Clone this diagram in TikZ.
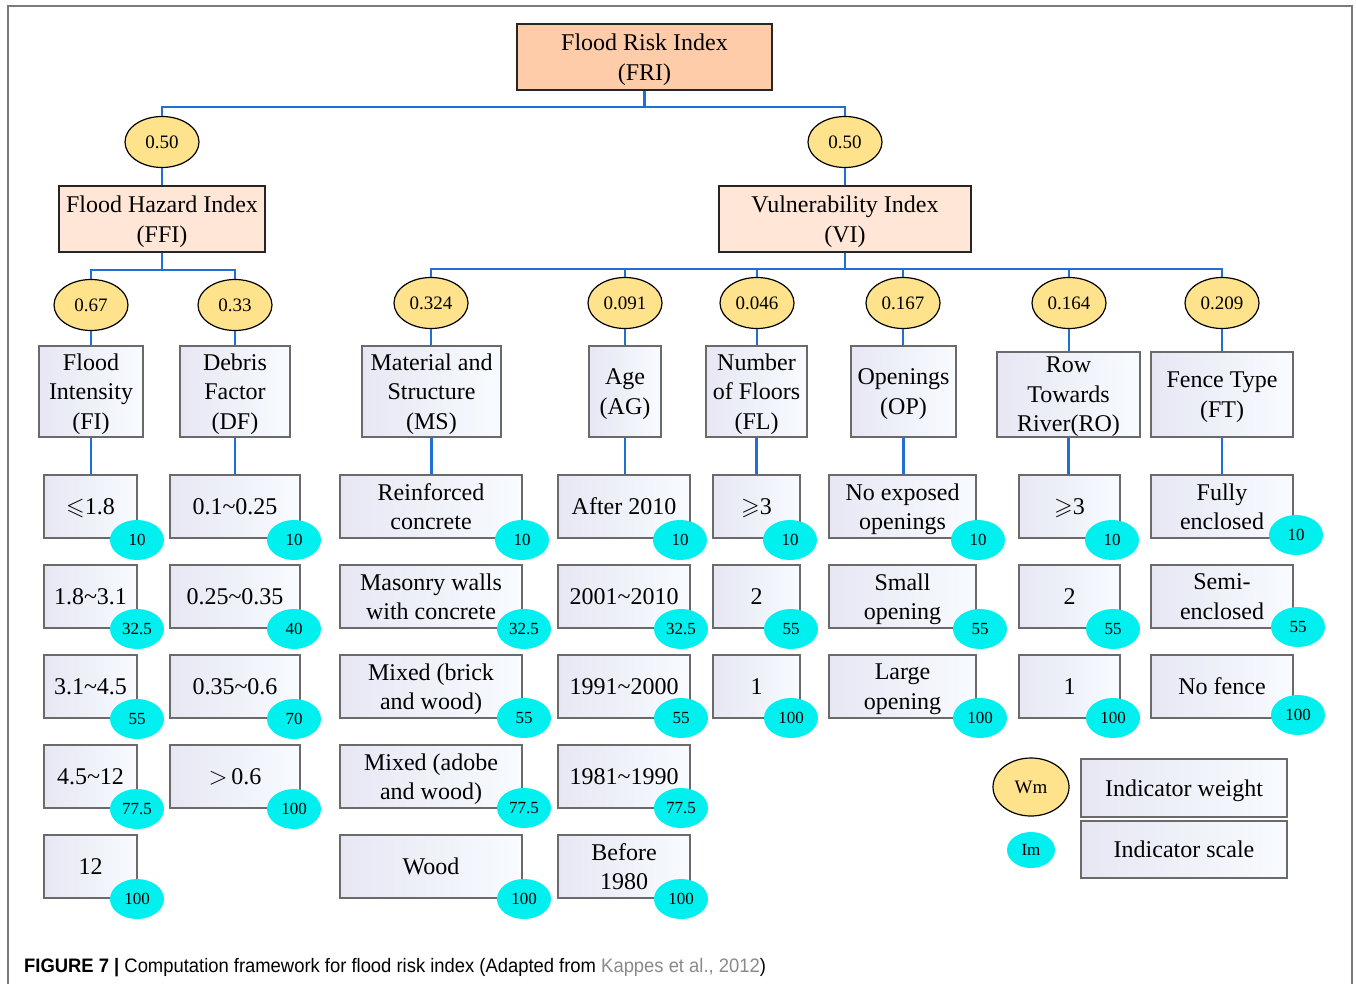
\documentclass[tikz,border=0pt]{standalone}
\usepackage{fontspec}
\usepackage{amssymb}
\setmainfont{Liberation Serif}
\newfontfamily\capfont{Liberation Sans}[FakeStretch=0.944]
\usetikzlibrary{shapes.geometric}
\definecolor{linkblue}{HTML}{1F6FD6}
\definecolor{topfill}{HTML}{FFCCAA}
\definecolor{midfill}{HTML}{FFE6D6}
\definecolor{wfill}{HTML}{FFE28C}
\definecolor{sfill}{HTML}{00F0F0}
\definecolor{boxline}{HTML}{6A6A6A}
\definecolor{shadeA}{HTML}{E6E7F3}
\definecolor{shadeB}{HTML}{F8FBFF}
\definecolor{framegray}{HTML}{7A7A7A}
\definecolor{refgray}{HTML}{8A8A8A}
\tikzset{
  bigtxt/.style={font=\fontsize{24}{29.5}\selectfont, align=center, inner sep=0pt, text depth=0pt},
  topbox/.style={bigtxt, rectangle, draw=black!85, line width=1.6pt, fill=topfill},
  midbox/.style={bigtxt, rectangle, draw=black!85, line width=1.6pt, fill=midfill},
  catbox/.style={bigtxt, rectangle, draw=boxline, line width=1.4pt, left color=shadeA, right color=shadeB},
  wnode/.style={ellipse, draw=black, line width=1.2pt, fill=wfill, minimum width=74pt, minimum height=51pt, inner sep=0pt, font=\fontsize{19}{22}\selectfont},
  snode/.style={ellipse, draw=none, fill=sfill, minimum width=54pt, minimum height=40pt, inner sep=0pt, font=\fontsize{17}{20}\selectfont},
  link/.style={draw=linkblue, line width=2.2pt},
}
% box by corners: style, name, x1, y1, x2, y2, text
\newcommand\mybox[7]{\node[#1, minimum width={#5pt-#3pt}, minimum height={#6pt-#4pt}] (#2) at ({(#3+#5)/2},{(#4+#6)/2}) {#7};}
\newcommand\tl{\textasciitilde}
\begin{document}
\begin{tikzpicture}[x=1pt, y=-1pt]
\useasboundingbox (0,0) rectangle (1356,984);
% outer frame
\draw[framegray, line width=1.2pt] (8,990) -- (8,6) -- (1352,6) -- (1352,990);

% top levels
\mybox{topbox}{FRI}{517}{24}{772}{90}{Flood Risk Index\\(FRI)}
\node[wnode] (w1) at (162,142) {0.50};
\node[wnode] (w2) at (845,142) {0.50};
\mybox{midbox}{FFI}{59}{186}{265}{252}{Flood Hazard Index\\(FFI)}
\mybox{midbox}{VI}{719}{186}{971}{252}{Vulnerability Index\\(VI)}

% weights level 2
\node[wnode] (wFI) at (91,305) {0.67};
\node[wnode] (wDF) at (235,305) {0.33};
\node[wnode] (wMS) at (431,303) {0.324};
\node[wnode] (wAG) at (625,303) {0.091};
\node[wnode] (wFL) at (757,303) {0.046};
\node[wnode] (wOP) at (903,303) {0.167};
\node[wnode] (wRO) at (1069,303) {0.164};
\node[wnode] (wFT) at (1222,303) {0.209};

% categories
\mybox{catbox}{FI}{39}{346}{143}{437}{Flood\\Intensity\\(FI)}
\mybox{catbox}{DF}{180}{346}{290}{437}{Debris\\Factor\\(DF)}
\mybox{catbox}{MS}{362}{346}{501}{437}{Material and\\Structure\\(MS)}
\mybox{catbox}{AG}{589}{346}{661}{437}{Age\\(AG)}
\mybox{catbox}{FL}{706}{346}{807}{437}{Number\\of Floors\\(FL)}
\mybox{catbox}{OP}{851}{346}{956}{437}{Openings\\(OP)}
\mybox{catbox}{RO}{997}{352}{1140}{437}{Row\\Towards\\River(RO)}
\mybox{catbox}{FT}{1151}{352}{1293}{437}{Fence Type\\(FT)}

% items FI
\mybox{catbox}{FI1}{44}{475}{137}{538}{$\leqslant$1.8}
\mybox{catbox}{FI2}{44}{565}{137}{628}{1.8\tl3.1}
\mybox{catbox}{FI3}{44}{655}{137}{718}{3.1\tl4.5}
\mybox{catbox}{FI4}{44}{745}{137}{808}{4.5\tl12}
\mybox{catbox}{FI5}{44}{835}{137}{898}{12}
% items DF
\mybox{catbox}{DF1}{170}{475}{300}{538}{0.1\tl0.25}
\mybox{catbox}{DF2}{170}{565}{300}{628}{0.25\tl0.35}
\mybox{catbox}{DF3}{170}{655}{300}{718}{0.35\tl0.6}
\mybox{catbox}{DF4}{170}{745}{300}{808}{$>$\,0.6}
% items MS
\mybox{catbox}{MS1}{340}{475}{522}{538}{Reinforced\\concrete}
\mybox{catbox}{MS2}{340}{565}{522}{628}{Masonry walls\\with concrete}
\mybox{catbox}{MS3}{340}{655}{522}{718}{Mixed (brick\\and wood)}
\mybox{catbox}{MS4}{340}{745}{522}{808}{Mixed (adobe\\and wood)}
\mybox{catbox}{MS5}{340}{835}{522}{898}{Wood}
% items AG
\mybox{catbox}{AG1}{558}{475}{690}{538}{After 2010}
\mybox{catbox}{AG2}{558}{565}{690}{628}{2001\tl2010}
\mybox{catbox}{AG3}{558}{655}{690}{718}{1991\tl2000}
\mybox{catbox}{AG4}{558}{745}{690}{808}{1981\tl1990}
\mybox{catbox}{AG5}{558}{835}{690}{898}{Before\\1980}
% items FL
\mybox{catbox}{FL1}{713}{475}{800}{538}{$\geqslant$3}
\mybox{catbox}{FL2}{713}{565}{800}{628}{2}
\mybox{catbox}{FL3}{713}{655}{800}{718}{1}
% items OP
\mybox{catbox}{OP1}{829}{475}{976}{538}{No exposed\\openings}
\mybox{catbox}{OP2}{829}{565}{976}{628}{Small\\opening}
\mybox{catbox}{OP3}{829}{655}{976}{718}{Large\\opening}
% items RO
\mybox{catbox}{RO1}{1019}{475}{1120}{538}{$\geqslant$3}
\mybox{catbox}{RO2}{1019}{565}{1120}{628}{2}
\mybox{catbox}{RO3}{1019}{655}{1120}{718}{1}
% items FT
\mybox{catbox}{FT1}{1151}{475}{1293}{538}{Fully\\enclosed}
\mybox{catbox}{FT2}{1151}{565}{1293}{628}{Semi-\\enclosed}
\mybox{catbox}{FT3}{1151}{655}{1293}{718}{No fence}

% scale ellipses
\node[snode] (sFI1) at (137,540) {10};
\node[snode] (sFI2) at (137,629) {32.5};
\node[snode] (sFI3) at (137,719) {55};
\node[snode] (sFI4) at (137,809) {77.5};
\node[snode] (sFI5) at (137,899) {100};
\node[snode] (sDF1) at (294,540) {10};
\node[snode] (sDF2) at (294,629) {40};
\node[snode] (sDF3) at (294,719) {70};
\node[snode] (sDF4) at (294,809) {100};
\node[snode] (sMS1) at (522,540) {10};
\node[snode] (sMS2) at (524,629) {32.5};
\node[snode] (sMS3) at (524,718) {55};
\node[snode] (sMS4) at (524,808) {77.5};
\node[snode] (sMS5) at (524,899) {100};
\node[snode] (sAG1) at (680,540) {10};
\node[snode] (sAG2) at (681,629) {32.5};
\node[snode] (sAG3) at (681,718) {55};
\node[snode] (sAG4) at (681,808) {77.5};
\node[snode] (sAG5) at (681,899) {100};
\node[snode] (sFL1) at (790,540) {10};
\node[snode] (sFL2) at (791,629) {55};
\node[snode] (sFL3) at (791,718) {100};
\node[snode] (sOP1) at (978,540) {10};
\node[snode] (sOP2) at (980,629) {55};
\node[snode] (sOP3) at (980,718) {100};
\node[snode] (sRO1) at (1112,540) {10};
\node[snode] (sRO2) at (1113,629) {55};
\node[snode] (sRO3) at (1113,718) {100};
\node[snode] (sFT1) at (1296,535) {10};
\node[snode] (sFT2) at (1298,627) {55};
\node[snode] (sFT3) at (1298,715) {100};

% legend
\node[wnode, minimum width=76pt, minimum height=58pt] (lw) at (1031,787) {Wm};
\node[snode, minimum width=48pt, minimum height=36pt] (ls) at (1031,850) {Im};
\mybox{catbox}{LW}{1081}{759}{1287}{817}{Indicator weight}
\mybox{catbox}{LS}{1081}{821}{1287}{878}{Indicator scale}

% connectors
\coordinate (b1) at (644.5,107);
\draw[link] (FRI.south) -- (b1);
\draw[link] (w1.north) |- (b1);
\draw[link] (w2.north) |- (b1);
\draw[link] (w1) -- (FFI);
\draw[link] (w2) -- (VI);

\coordinate (b2) at (162,270);
\draw[link] (FFI.south) -- (b2);
\draw[link] (wFI.north) |- (b2);
\draw[link] (wDF.north) |- (b2);

\coordinate (b3) at (845,269);
\draw[link] (VI.south) -- (b3);
\foreach \w in {wMS,wAG,wFL,wOP,wRO,wFT} \draw[link] (\w.north) |- (b3);

\foreach \c in {FI,DF,MS,AG,FL,OP,RO,FT} {
  \draw[link] (w\c.south) -- (w\c.south |- \c.north);
  \draw[link] (\c.south) -- (\c.south |- \c1.north);
}

% caption
\node[anchor=base west, inner sep=0pt, font=\capfont\fontsize{19.5}{22}\selectfont] (cap) at (24,972)
  {\textbf{FIGURE 7 |} Computation framework for flood risk index (Adapted from \textcolor{refgray}{Kappes et al., 2012})};
\end{tikzpicture}
\end{document}
